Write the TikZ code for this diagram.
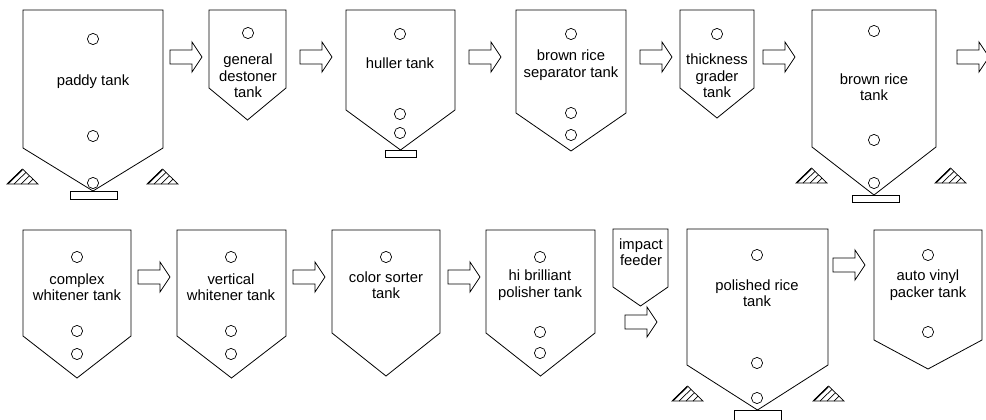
\documentclass[tikz,border=0pt]{standalone}
\usepackage{fontspec}
\setmainfont{Liberation Sans}
\begin{document}
\begin{tikzpicture}[x=1pt,y=-1pt,line width=0.8pt,
  tanklabel/.style={align=center,inner sep=0pt,font=\fontsize{14.8}{16.5}\selectfont},
  port/.style={draw,line width=0.7pt},
  flowarrow/.pic={\draw[line width=0.8pt] (0,-7) -- (22,-7) -- (22,-15) -- (32,0) -- (22,15) -- (22,7) -- (0,7) -- cycle;},
  hatchtri/.pic={%
    \draw[line width=0.7pt] (0,0) -- (31,0) -- (15.5,-15) -- cycle;
    \draw[line width=1.3pt] (1.2,-0.6) -- (15.2,-14.2);
    \foreach \s in {7,14,21}
      \draw[line width=0.7pt] (\s,0) -- ({\s+15.5*(31-\s)/31},{-15*(31-\s)/31});
  }]
\useasboundingbox (0,0) rectangle (986,420);
\clip (0,0) rectangle (986,420);

% tank outline: left, right, top, shoulder, apex
\newcommand\tankoutline[5]{%
  \draw (#1,#3) -- (#2,#3) -- (#2,#4) -- ({(#1+#2)/2},#5) -- (#1,#4) -- cycle;}
\newcommand\port[2]{\draw[port] (#1,#2) circle[radius=5.6];}

% ---------------- upper row ----------------
\tankoutline{23}{163}{10}{148}{191}
\port{93}{39}\port{93}{136}\port{93}{183}
\node[tanklabel] (paddy) at (93,82) {paddy tank};
\draw (70,191) rectangle (117,199);
\pic at (7,184) {hatchtri};
\pic at (147,184) {hatchtri};

\pic (a1) at (170,57) {flowarrow};

\tankoutline{209}{286}{10}{88}{120}
\port{248}{33}
\node[tanklabel] (destoner) at (248,76) {general\\destoner\\tank};

\pic (a2) at (300,57) {flowarrow};

\tankoutline{346}{455}{10}{110}{150}
\port{400}{34}\port{400}{114}\port{400}{133}
\node[tanklabel] (huller) at (400,63) {huller tank};
\draw (385,150) rectangle (416,157);

\pic (a3) at (469,57) {flowarrow};

\tankoutline{516}{626}{10}{113}{151}
\port{571}{34}\port{571}{113}\port{571}{135}
\node[tanklabel] (separator) at (571,65) {brown rice\\separator tank};

\pic (a4) at (640,57) {flowarrow};

\tankoutline{680}{754}{10}{88}{118}
\port{717}{34}
\node[tanklabel] (grader) at (717,76) {thickness\\grader\\tank};

\pic (a5) at (763,57) {flowarrow};

\tankoutline{812}{936}{10}{147}{195}
\port{874}{31}\port{874}{140}\port{874}{183}
\node[tanklabel] (brownrice) at (874,87) {brown rice\\tank};
\draw (852,195) rectangle (899,202);
\pic at (796,183) {hatchtri};
\pic at (935,183) {hatchtri};

\pic (a6) at (957,57) {flowarrow};

% ---------------- lower row ----------------
\tankoutline{23}{131}{230}{336}{378}
\port{77}{257}\port{77}{331}\port{77}{354}
\node[tanklabel] (complex) at (77,287) {complex\\whitener tank};

\pic (a7) at (138,277) {flowarrow};

\tankoutline{177}{286}{230}{336}{378}
\port{231}{257}\port{231}{331}\port{231}{354}
\node[tanklabel] (vertical) at (231,287) {vertical\\whitener tank};

\pic (a8) at (293,277) {flowarrow};

\tankoutline{332}{440}{230}{333}{376}
\port{386}{257}
\node[tanklabel] (sorter) at (386,285) {color sorter\\tank};

\pic (a9) at (448,277) {flowarrow};

\tankoutline{486}{595}{230}{333}{376}
\port{540}{257}\port{540}{332}\port{540}{353}
\node[tanklabel] (polisher) at (540,285) {hi brilliant\\polisher tank};

\tankoutline{613}{668}{229}{287}{306}
\node[tanklabel] (feeder) at (641,252) {impact\\feeder};

\pic (a10) at (625,322) {flowarrow};

\tankoutline{687}{828}{229}{365}{410}
\port{757}{255}\port{757}{363}\port{757}{398}
\node[tanklabel] (polished) at (757,293) {polished rice\\tank};
\draw (734,410) rectangle (781,425);
\pic at (672,401) {hatchtri};
\pic at (813,401) {hatchtri};

\pic (a11) at (833,265) {flowarrow};

\tankoutline{874}{982}{230}{340}{369}
\port{928}{255}\port{928}{332}
\node[tanklabel] (packer) at (928,285) {auto vinyl\\packer tank};
\end{tikzpicture}
\end{document}
